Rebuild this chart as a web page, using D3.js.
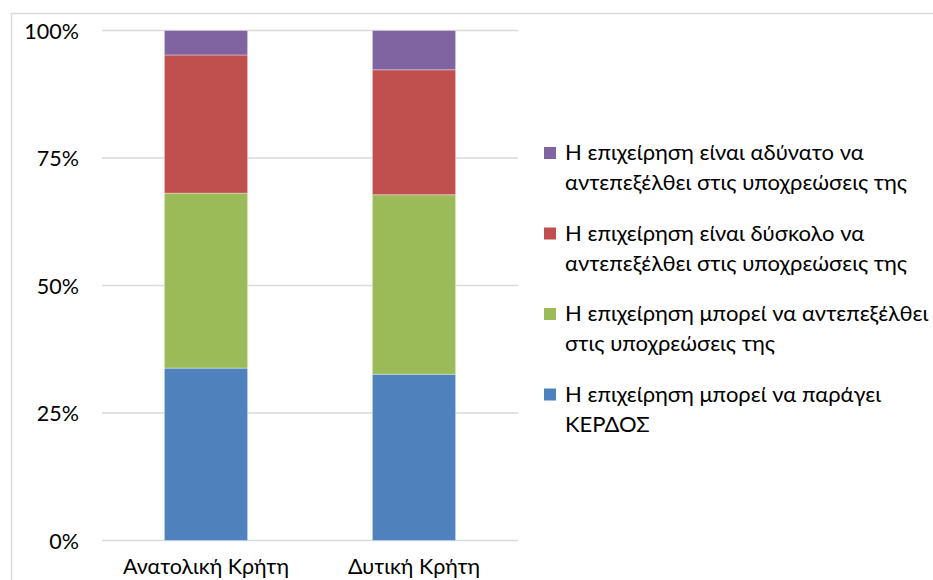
<!DOCTYPE html>
<html><head><meta charset="utf-8">
<script src="https://cdn.jsdelivr.net/npm/d3@7"></script>
<style>
html,body{margin:0;padding:0;background:#fff;overflow:hidden}
text{font-family:"Lato","Noto Sans",sans-serif;fill:#000}
</style></head><body>
<svg id="c" width="933" height="580"></svg>
<script>
const categories = ["Ανατολική Κρήτη", "Δυτική Κρήτη"];
const seriesNames = [
  "Η επιχείρηση μπορεί να παράγει ΚΕΡΔΟΣ",
  "Η επιχείρηση μπορεί να αντεπεξέλθει στις υποχρεώσεις της",
  "Η επιχείρηση είναι δύσκολο να αντεπεξέλθει στις υποχρεώσεις της",
  "Η επιχείρηση είναι αδύνατο να αντεπεξέλθει στις υποχρεώσεις της"
];
const legendLines = [
  ["Η επιχείρηση μπορεί να παράγει", "ΚΕΡΔΟΣ"],
  ["Η επιχείρηση μπορεί να αντεπεξέλθει", "στις υποχρεώσεις της"],
  ["Η επιχείρηση είναι δύσκολο να", "αντεπεξέλθει στις υποχρεώσεις της"],
  ["Η επιχείρηση είναι αδύνατο να", "αντεπεξέλθει στις υποχρεώσεις της"]
];
const profit     = [33.8, 32.6];
const canCope    = [34.3, 35.2];
const difficult  = [27.1, 24.5];
const impossible = [4.8, 7.7];
const seriesValues = [profit, canCope, difficult, impossible];
const colors = ["#4F81BD", "#9BBB59", "#C0504D", "#8064A2"];
const yTicks = [0, 25, 50, 75, 100];

(function () {
const svg = d3.select("#c");
svg.append("rect").attr("x", 11.5).attr("y", 13.5).attr("width", 940).attr("height", 600)
  .attr("fill", "none").attr("stroke", "#d9d9d9").attr("stroke-width", 1.5);

const pLeft = 102, pRight = 518, pTop = 30.5, pBottom = 540.5;
const x = d3.scaleBand().domain(categories).range([pLeft, pRight]).paddingInner(0.6).paddingOuter(0.3);
const y = d3.scaleLinear().domain([0, 100]).range([pBottom, pTop]);

svg.append("g").selectAll("line").data(yTicks).join("line")
  .attr("x1", pLeft).attr("x2", pRight)
  .attr("y1", d => y(d)).attr("y2", d => y(d))
  .attr("stroke", "#d9d9d9").attr("stroke-width", 1.5);

const yAxis = d3.axisLeft(y).tickValues(yTicks).tickFormat(d => d + "%").tickSize(0).tickPadding(0);
const yg = svg.append("g").attr("transform", "translate(79,0)").call(yAxis);
yg.select(".domain").remove();
yg.selectAll("text").style("font-size", "21.5px").style("font-family", "Lato, 'Noto Sans', sans-serif").attr("fill", "#000").attr("dy", "0.35em");

const rows = categories.map((c, i) => {
  const r = { cat: c };
  seriesNames.forEach((s, k) => r[s] = seriesValues[k][i]);
  return r;
});
const stack = d3.stack().keys(seriesNames)(rows);
svg.append("g").selectAll("g").data(stack).join("g")
  .attr("fill", (d, i) => colors[i])
  .selectAll("rect").data(d => d).join("rect")
  .attr("x", d => x(d.data.cat))
  .attr("width", x.bandwidth())
  .attr("y", d => y(d[1]))
  .attr("height", d => y(d[0]) - y(d[1]))
  .attr("stroke", "rgba(255,255,255,0.35)").attr("stroke-width", 1);

const xAxis = d3.axisBottom(x).tickSize(0).tickPadding(0);
const xg = svg.append("g").attr("transform", "translate(0,574)").call(xAxis);
xg.select(".domain").remove();
xg.selectAll("text").attr("dy", 0).style("font-size", "21.5px").style("font-family", "Lato, 'Noto Sans', sans-serif").attr("fill", "#000");

const legendOrder = [3, 2, 1, 0];
const lg = svg.append("g");
legendOrder.forEach((k, j) => {
  const yTop = 147 + j * 80.5;
  lg.append("rect").attr("x", 544).attr("y", yTop).attr("width", 12).attr("height", 12).attr("fill", colors[k]);
  const t = lg.append("text").attr("x", 565).attr("y", yTop + 13).style("font-size", "22px");
  legendLines[k].forEach((ln, li) => {
    t.append("tspan").attr("x", 565).attr("dy", li === 0 ? 0 : 30).text(ln);
  });
});
})();
</script>
</body></html>
